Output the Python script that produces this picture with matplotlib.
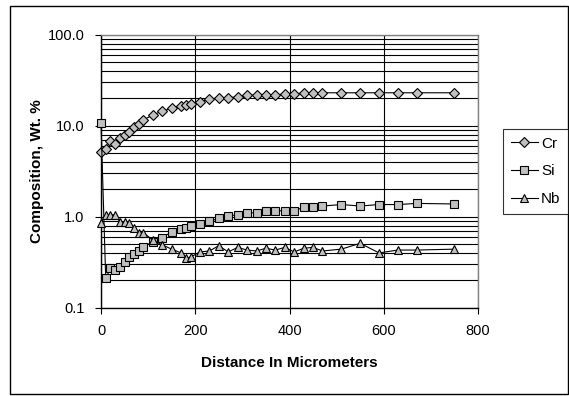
import matplotlib
matplotlib.use("Agg")
import matplotlib.pyplot as plt
from matplotlib.patches import Rectangle
from matplotlib.ticker import FixedLocator, LogLocator, NullFormatter

plt.rcParams["font.family"] = ["Liberation Sans", "DejaVu Sans"]

# distance from the interface, micrometers (same sampling for all three traces)
distance = [0, 10, 20, 30, 40, 50, 60, 70, 80, 90, 110, 130, 150, 170, 180, 190,
            210, 230, 250, 270, 290, 310, 330, 350, 370, 390, 410, 430, 450, 470,
            510, 550, 590, 630, 670, 750]

cr = [5.2, 5.6, 6.8, 6.3, 7.3, 7.9, 8.6, 9.6, 10.4, 11.6, 13.1, 14.5, 15.5, 16.6,
      16.9, 17.3, 18.4, 19.5, 20.3, 20.3, 20.8, 21.6, 21.6, 21.6, 21.6, 22.5, 22.5,
      22.7, 22.7, 23.0, 23.0, 23.0, 23.0, 23.0, 23.0, 23.0]

si = [10.6, 0.21, 0.27, 0.26, 0.28, 0.32, 0.36, 0.39, 0.42, 0.47, 0.53, 0.59, 0.68,
      0.73, 0.75, 0.80, 0.83, 0.89, 0.96, 1.02, 1.05, 1.09, 1.11, 1.15, 1.16, 1.16,
      1.16, 1.27, 1.29, 1.31, 1.36, 1.31, 1.36, 1.36, 1.40, 1.38]

nb = [0.85, 1.05, 1.05, 1.05, 0.88, 0.88, 0.86, 0.76, 0.67, 0.67, 0.55, 0.49, 0.44,
      0.40, 0.35, 0.36, 0.41, 0.42, 0.48, 0.41, 0.46, 0.43, 0.42, 0.45, 0.43, 0.46,
      0.41, 0.45, 0.46, 0.42, 0.44, 0.51, 0.40, 0.43, 0.43, 0.44]

x_ticks = [0, 200, 400, 600, 800]
y_ticks = [0.1, 1.0, 10.0, 100.0]
y_tick_labels = ["0.1", "1.0", "10.0", "100.0"]

W, H = 569, 396
fig = plt.figure(figsize=(W / 100, H / 100), dpi=100)

# outer chart frame
fig.patches.append(Rectangle((10 / W, 2 / H), 558 / W, 388 / H, transform=fig.transFigure,
                             fill=False, edgecolor="black", linewidth=1.0))

ax = fig.add_axes([101 / W, (H - 307.7) / H, 377 / W, 273 / H])
ax.set_yscale("log")
ax.set_xlim(0, 800)
ax.set_ylim(0.1, 100)

style = dict(color="black", linewidth=0.8, markerfacecolor="#c0c0c0",
             markeredgecolor="black", markeredgewidth=0.8, zorder=3, clip_on=False)
ax.plot(distance, cr, marker="D", markersize=5, label="Cr", **style)
ax.plot(distance, si, marker="s", markersize=6, label="Si", **style)
ax.plot(distance, nb, marker="^", markersize=6, label="Nb", **style)

ax.xaxis.set_major_locator(FixedLocator(x_ticks))
ax.set_xticklabels([str(t) for t in x_ticks])
ax.yaxis.set_major_locator(FixedLocator(y_ticks))
ax.set_yticklabels(y_tick_labels)
ax.yaxis.set_minor_locator(LogLocator(base=10, subs=range(2, 10)))
ax.yaxis.set_minor_formatter(NullFormatter())

ax.grid(True, which="major", axis="both", color="black", linewidth=0.8)
ax.grid(True, which="minor", axis="y", color="black", linewidth=0.8)
ax.tick_params(axis="both", which="major", direction="out", length=4, width=0.8,
               labelsize=10.5, pad=8)
ax.tick_params(axis="y", which="minor", length=0)
for s in ax.spines.values():
    s.set_color("#808080")
    s.set_linewidth(1.0)
ax.spines["left"].set_color("black")
ax.spines["bottom"].set_color("black")

fig.text(37 / W, 1 - 171 / H, "Composition, Wt. %", rotation=90, ha="center",
         va="center", fontsize=11, fontweight="bold")
fig.text(289 / W, 1 - 363 / H, "Distance In Micrometers", ha="center", va="center",
         fontsize=11, fontweight="bold")

leg = fig.legend(loc="upper left", bbox_to_anchor=(503 / W, 1 - 129 / H), fontsize=11,
                 frameon=True, fancybox=False, edgecolor="black", handlelength=1.8,
                 borderaxespad=0, labelspacing=0.9, handletextpad=0.2,
                 borderpad=0.5)
leg.get_frame().set_linewidth(0.8)

fig.savefig("out.png", dpi=100)
